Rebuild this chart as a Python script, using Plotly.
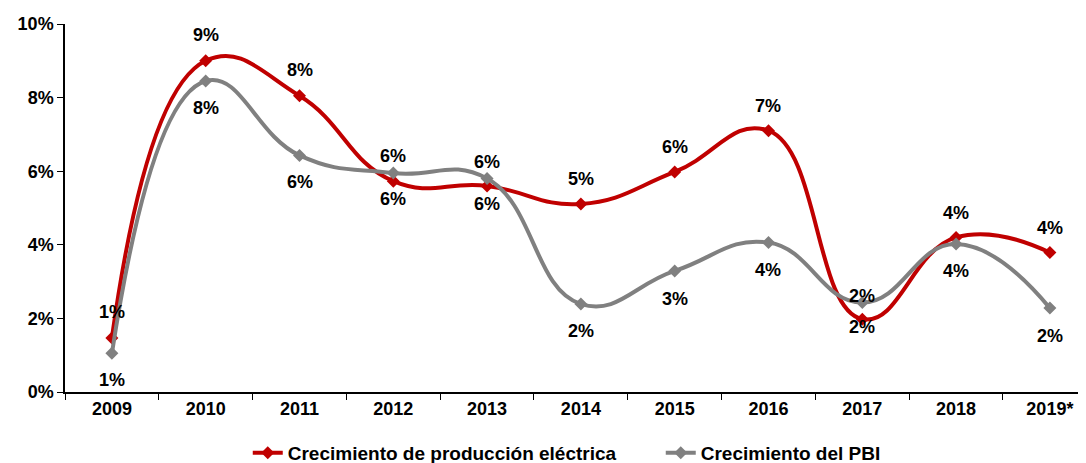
import plotly.graph_objects as go

years = ["2009", "2010", "2011", "2012", "2013", "2014", "2015", "2016", "2017", "2018", "2019*"]
electric = [1.47, 9.0, 8.05, 5.73, 5.6, 5.11, 5.98, 7.1, 1.98, 4.2, 3.79]
gdp = [1.05, 8.45, 6.43, 5.95, 5.8, 2.39, 3.29, 4.06, 2.43, 4.02, 2.28]
y_ticks = [0, 2, 4, 6, 8, 10]

# label vertical offsets in pixels (style)
elec_shift = [26, 26, 26, -18, -18, 25, 25, 25, -8, 24, 25]
gdp_shift = [-27, -27, -27, 17, 17, -27, -28, -27, 7, -27, -28]

RED = "#C00000"
GRAY = "#808080"
FONT = "Liberation Sans, Arial, sans-serif"

fig = go.Figure()
fig.add_trace(go.Scatter(
    x=years, y=electric, name="Crecimiento de producción eléctrica",
    mode="lines+markers", line=dict(color=RED, width=4, shape="spline", smoothing=1.3),
    marker=dict(symbol="diamond", size=10, color=RED),
))
fig.add_trace(go.Scatter(
    x=years, y=gdp, name="Crecimiento del PBI",
    mode="lines+markers", line=dict(color=GRAY, width=4, shape="spline", smoothing=1.3),
    marker=dict(symbol="diamond", size=10, color=GRAY),
))

annotations = []
for vals, shifts in ((electric, elec_shift), (gdp, gdp_shift)):
    for i, (v, s) in enumerate(zip(vals, shifts)):
        annotations.append(dict(
            x=i, y=v, xref="x", yref="y", text=f"{round(v)}%", showarrow=False,
            yshift=s, font=dict(family=FONT, size=18, color="black", weight="bold"),
        ))

fig.update_layout(
    width=1078, height=455,
    margin=dict(l=57, r=0, t=16, b=71, autoexpand=False),
    paper_bgcolor="white", plot_bgcolor="white",
    font=dict(family=FONT, size=18, color="black", weight="bold"),
    showlegend=True,
    legend=dict(orientation="h", x=0.179, xanchor="left", y=-0.114, yanchor="top",
                entrywidth=368, entrywidthmode="pixels",
                font=dict(family=FONT, size=19, color="black", weight="bold")),
    annotations=annotations,
    xaxis=dict(
        type="category", range=[-0.5, 10.385], showgrid=False, zeroline=False,
        showline=True, linecolor="black", linewidth=1.5,
        ticks="outside", ticklen=6, tickcolor="black", tickson="boundaries",
        tickfont=dict(family=FONT, size=18, color="black", weight="bold"),
    ),
    yaxis=dict(
        range=[0, 10], tickvals=y_ticks, ticktext=[f"{t}%" for t in y_ticks],
        showgrid=False, zeroline=False, showline=True, linecolor="black", linewidth=1.5,
        ticks="outside", ticklen=6, tickcolor="black",
        tickfont=dict(family=FONT, size=18, color="black", weight="bold"),
    ),
)

fig.write_html("out.html")
